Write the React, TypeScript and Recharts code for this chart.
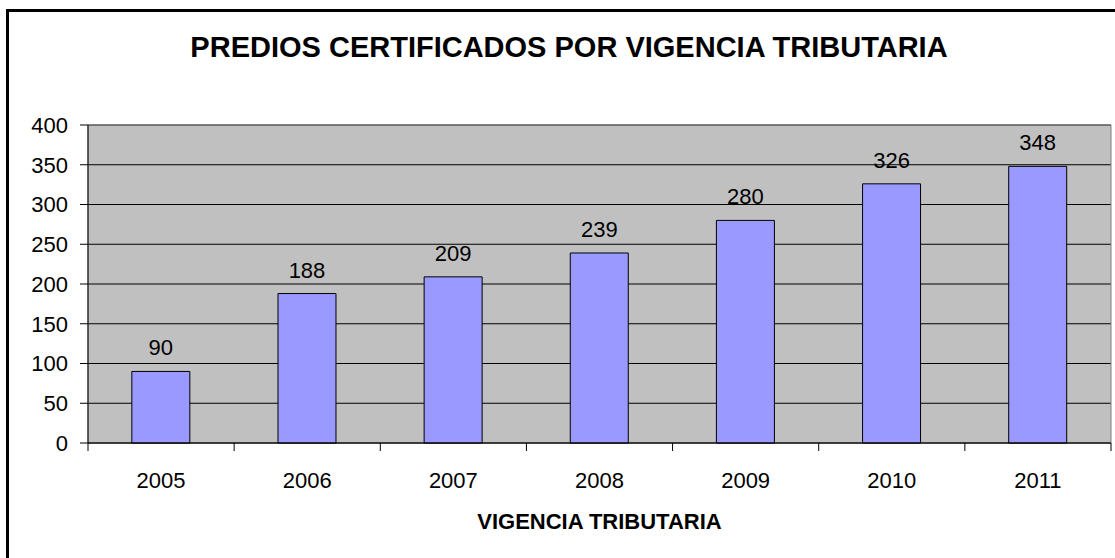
import {
  BarChart,
  Bar,
  XAxis,
  YAxis,
  CartesianGrid,
  LabelList,
  ReferenceArea,
  Label,
} from "recharts";

const years = ["2005", "2006", "2007", "2008", "2009", "2010", "2011"];
const predios = [90, 188, 209, 239, 280, 326, 348];
const yTicks = [0, 50, 100, 150, 200, 250, 300, 350, 400];

const data = years.map((year, i) => ({ year, predios: predios[i] }));

const W = 1115;
const H = 558;
const margin = { top: 125, right: 4, left: 0, bottom: 85 };
const Y_W = 88;
const FONT = "'Liberation Sans', Arial, sans-serif";

// half a category band, for the boundary tick marks
const halfBand = (W - margin.left - margin.right - Y_W) / years.length / 2;

const YearTick = (props: any) => {
  const { x, y, payload, index, visibleTicksCount } = props;
  return (
    <g>
      <line x1={x - halfBand} x2={x - halfBand} y1={y} y2={y + 8} stroke="#000" />
      {index === visibleTicksCount - 1 && (
        <line x1={x + halfBand} x2={x + halfBand} y1={y} y2={y + 8} stroke="#000" />
      )}
      <text
        x={x}
        y={y + 37}
        dy="0.355em"
        textAnchor="middle"
        fill="#000"
        fontSize={22}
        fontFamily={FONT}
      >
        {payload.value}
      </text>
    </g>
  );
};

export default function App() {
  return (
    <div
      style={{
        position: "absolute",
        left: 0,
        top: 0,
        width: W,
        height: H,
        overflow: "hidden",
        background: "#fff",
        fontFamily: FONT,
      }}
    >
      <div
        style={{
          position: "absolute",
          left: 6,
          top: 9,
          width: 1300,
          height: 700,
          borderLeft: "3px solid #000",
          borderTop: "3px solid #000",
        }}
      />
      <div
        style={{
          position: "absolute",
          left: 0,
          top: 33,
          width: 1138,
          textAlign: "center",
          fontSize: 29,
          lineHeight: "29px",
          fontWeight: "bold",
          color: "#000",
        }}
      >
        PREDIOS CERTIFICADOS POR VIGENCIA TRIBUTARIA
      </div>
      <div style={{ position: "absolute", left: 0, top: 0 }}>
        <BarChart width={W} height={H} data={data} margin={margin} barCategoryGap="30%">
          <CartesianGrid
            vertical={false}
            stroke="#000"
            fill="#c0c0c0"
            fillOpacity={1}
          />
          <ReferenceArea y1={0} y2={400} fill="none" stroke="#808080" />
          <XAxis
            dataKey="year"
            tickLine={false}
            tickSize={0}
            tickMargin={0}
            height={30}
            axisLine={{ stroke: "#000", strokeWidth: 1 }}
            tick={<YearTick />}
            interval={0}
          >
            <Label
              value="VIGENCIA TRIBUTARIA"
              position="bottom"
              offset={40}
              fill="#000"
              fontSize={22}
              fontWeight="bold"
              fontFamily={FONT}
            />
          </XAxis>
          <YAxis
            width={Y_W}
            domain={[0, 400]}
            ticks={yTicks}
            interval={0}
            tickSize={8}
            tickMargin={12}
            axisLine={{ stroke: "#000" }}
            tickLine={{ stroke: "#000" }}
            tick={{ fill: "#000", fontSize: 22, fontFamily: FONT }}
          />
          <Bar
            dataKey="predios"
            fill="#9999ff"
            stroke="#000"
            strokeWidth={1}
            isAnimationActive={false}
          >
            <LabelList
              dataKey="predios"
              position="top"
              offset={16}
              fill="#000"
              fontSize={22}
              fontFamily={FONT}
            />
          </Bar>
        </BarChart>
      </div>
    </div>
  );
}
